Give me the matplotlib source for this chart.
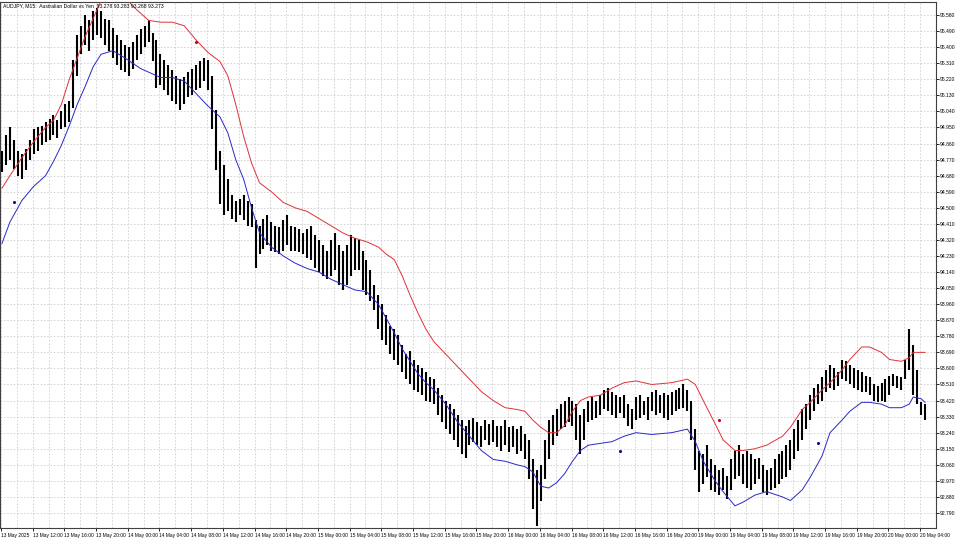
import matplotlib
matplotlib.use('Agg')
import matplotlib.pyplot as plt
import numpy as np

plt.rcParams['font.family'] = ['Liberation Sans', 'DejaVu Sans']

# ---- bar data (30-min aggregated bars) ----
high = [
    94.82, 94.91, 94.95, 94.88, 94.82, 94.80, 94.83, 94.88,
    94.94, 94.95, 94.96, 94.98, 95.00, 95.02, 94.99, 95.04,
    95.08, 95.10, 95.33, 95.47, 95.52, 95.58, 95.55, 95.60,
    95.62, 95.60, 95.56, 95.55, 95.51, 95.47, 95.44, 95.41,
    95.40, 95.43, 95.47, 95.50, 95.52, 95.55, 95.48, 95.44,
    95.36, 95.33, 95.30, 95.27, 95.24, 95.22, 95.23, 95.26,
    95.28, 95.30, 95.32, 95.34, 95.33, 95.24, 95.05, 94.82,
    94.74, 94.66, 94.57, 94.54, 94.55, 94.57, 94.54, 94.52,
    94.43, 94.40, 94.44, 94.46, 94.42, 94.40, 94.39, 94.43,
    94.46, 94.40, 94.39, 94.38, 94.36, 94.38, 94.40, 94.35,
    94.32, 94.29, 94.26, 94.32, 94.36, 94.29, 94.26, 94.29,
    94.35, 94.33, 94.32, 94.26, 94.21, 94.15, 94.07, 94.01,
    93.96, 93.90, 93.84, 93.82, 93.79, 93.73, 93.68, 93.70,
    93.65, 93.62, 93.60, 93.58, 93.55, 93.54, 93.49, 93.45,
    93.42, 93.40, 93.37, 93.34, 93.31, 93.28, 93.31, 93.32,
    93.30, 93.28, 93.31, 93.29, 93.31, 93.28, 93.28, 93.31,
    93.27, 93.28, 93.26, 93.28, 93.23, 93.20, 93.09, 93.03,
    93.06, 93.20, 93.31, 93.34, 93.37, 93.40, 93.42, 93.44,
    93.42, 93.40, 93.34, 93.37, 93.42, 93.44, 93.42, 93.45,
    93.48, 93.49, 93.47, 93.45, 93.44, 93.45, 93.40, 93.37,
    93.44, 93.45, 93.42, 93.44, 93.47, 93.48, 93.45, 93.46,
    93.45, 93.47, 93.48, 93.49, 93.51, 93.48, 93.42, 93.26,
    93.14, 93.12, 93.17, 93.09, 93.06, 93.03, 93.04, 93.00,
    93.09, 93.14, 93.17, 93.12, 93.14, 93.12, 93.09, 93.10,
    93.06, 93.03, 93.04, 93.09, 93.12, 93.14, 93.17, 93.20,
    93.26, 93.31, 93.37, 93.40, 93.45, 93.49, 93.51, 93.55,
    93.59, 93.62, 93.60, 93.58, 93.65, 93.64, 93.62, 93.60,
    93.59, 93.58, 93.56, 93.55, 93.51, 93.50, 93.52, 93.54,
    93.56, 93.57, 93.56, 93.55, 93.65, 93.82, 93.73, 93.59,
    93.41, 93.40,
]
low = [
    94.70, 94.74, 94.77, 94.72, 94.68, 94.66, 94.71, 94.77,
    94.80, 94.82, 94.85, 94.87, 94.88, 94.91, 94.89, 94.94,
    94.95, 94.98, 95.06, 95.24, 95.36, 95.41, 95.38, 95.44,
    95.47, 95.45, 95.41, 95.38, 95.34, 95.30, 95.27, 95.26,
    95.24, 95.28, 95.33, 95.36, 95.40, 95.43, 95.32, 95.17,
    95.19, 95.16, 95.13, 95.10, 95.08, 95.05, 95.08, 95.12,
    95.13, 95.16, 95.17, 95.21, 95.16, 94.94, 94.71, 94.52,
    94.46, 94.48, 94.44, 94.42, 94.46, 94.43, 94.40, 94.39,
    94.16, 94.24, 94.27, 94.29, 94.26, 94.25, 94.24, 94.26,
    94.29, 94.26, 94.26, 94.25, 94.24, 94.22, 94.21, 94.16,
    94.14, 94.12, 94.10, 94.12, 94.15, 94.07, 94.04, 94.07,
    94.12, 94.15, 94.15, 94.04, 94.01, 93.98, 93.93, 93.82,
    93.76, 93.73, 93.68, 93.65, 93.62, 93.58, 93.54, 93.51,
    93.48, 93.47, 93.45, 93.42, 93.41, 93.40, 93.34, 93.30,
    93.26, 93.23, 93.20, 93.16, 93.12, 93.10, 93.17, 93.19,
    93.17, 93.16, 93.20, 93.17, 93.19, 93.16, 93.14, 93.17,
    93.13, 93.16, 93.12, 93.14, 93.09, 92.98, 92.81, 92.72,
    92.86, 92.98, 93.09, 93.17, 93.22, 93.26, 93.27, 93.30,
    93.28, 93.20, 93.12, 93.20, 93.30, 93.31, 93.32, 93.34,
    93.37, 93.36, 93.34, 93.32, 93.35, 93.32, 93.28, 93.26,
    93.31, 93.32, 93.34, 93.31, 93.36, 93.34, 93.35, 93.32,
    93.31, 93.34, 93.36, 93.37, 93.38, 93.36, 93.20, 93.03,
    92.91, 92.95, 92.99, 92.92, 92.91, 92.89, 92.92, 92.87,
    92.92, 92.98, 93.00, 92.95, 92.93, 92.92, 92.95, 92.98,
    92.91, 92.89, 92.92, 92.93, 92.95, 92.98, 92.99, 93.03,
    93.09, 93.14, 93.20, 93.26, 93.31, 93.36, 93.40, 93.42,
    93.47, 93.49, 93.48, 93.50, 93.54, 93.53, 93.51, 93.49,
    93.48, 93.47, 93.47, 93.45, 93.42, 93.41, 93.42, 93.41,
    93.45, 93.50, 93.49, 93.48, 93.54, 93.59, 93.45, 93.40,
    93.34, 93.31,
]

# ---- channel lines (sampled at bar indices) ----
band_idx = [0, 2, 5, 8, 11, 13, 15, 17, 19, 21, 23, 25, 28, 31, 33, 35, 37, 40,
            43, 46, 49, 52, 55, 57, 59, 61, 63, 65, 68, 71, 74, 77, 80, 83, 86,
            89, 92, 95, 97, 99, 101, 103, 105, 107, 109, 112, 115, 118, 121, 124,
            127, 130, 132, 134, 136, 138, 140, 142, 144, 146, 148, 151, 154, 157,
            160, 164, 169, 173, 175, 177, 180, 182, 185, 187, 190, 193, 197, 199,
            202, 204, 207, 209, 212, 214, 217, 219, 222, 224, 227, 229, 230, 232, 233]
upper = [94.61, 94.68, 94.78, 94.87, 94.95, 94.99, 95.08, 95.22, 95.34, 95.46,
         95.56, 95.66, 95.72, 95.68, 95.63, 95.59, 95.55, 95.54, 95.54, 95.52,
         95.44, 95.37, 95.32, 95.24, 95.08, 94.90, 94.75, 94.64, 94.59, 94.53,
         94.50, 94.48, 94.44, 94.40, 94.36, 94.33, 94.31, 94.28, 94.24, 94.21,
         94.12, 94.01, 93.91, 93.82, 93.75, 93.68, 93.61, 93.54, 93.47, 93.42,
         93.38, 93.37, 93.36, 93.31, 93.27, 93.24, 93.24, 93.28, 93.36, 93.42,
         93.44, 93.45, 93.49, 93.52, 93.53, 93.51, 93.52, 93.54, 93.51, 93.42,
         93.29, 93.20, 93.14, 93.14, 93.15, 93.17, 93.22, 93.27, 93.37, 93.41,
         93.48, 93.52, 93.59, 93.65, 93.72, 93.72, 93.69, 93.65, 93.64, 93.66,
         93.69, 93.69, 93.69]
lower = [94.30, 94.42, 94.54, 94.62, 94.68, 94.76, 94.85, 94.96, 95.08, 95.18,
         95.29, 95.36, 95.38, 95.34, 95.31, 95.28, 95.26, 95.23, 95.23, 95.21,
         95.14, 95.07, 95.01, 94.92, 94.77, 94.66, 94.50, 94.36, 94.28, 94.23,
         94.19, 94.16, 94.14, 94.10, 94.07, 94.04, 94.03, 93.96, 93.88, 93.80,
         93.71, 93.64, 93.57, 93.52, 93.48, 93.40, 93.30, 93.22, 93.14, 93.09,
         93.08, 93.06, 93.05, 93.02, 92.94, 92.93, 92.96, 93.01, 93.08, 93.14,
         93.17, 93.18, 93.19, 93.22, 93.24, 93.23, 93.24, 93.26, 93.19, 93.08,
         92.97, 92.91, 92.83, 92.85, 92.89, 92.91, 92.88, 92.86, 92.92, 92.99,
         93.11, 93.24, 93.31, 93.36, 93.41, 93.41, 93.40, 93.38, 93.38, 93.40,
         93.44, 93.43, 93.41]

# ---- signal dots ----
sell_idx = [49, 181]
sell_val = [95.43, 93.31]
buy_idx = [3, 156, 206]
buy_val = [94.53, 93.14, 93.18]

price_labels = ["92.790", "92.880", "92.970", "93.060", "93.150", "93.240", "93.330",
                "93.420", "93.510", "93.600", "93.690", "93.780", "93.870", "93.960",
                "94.050", "94.140", "94.230", "94.320", "94.410", "94.500", "94.590",
                "94.680", "94.770", "94.860", "94.950", "95.040", "95.130", "95.220",
                "95.310", "95.400", "95.490", "95.580"]
time_labels = ["13 May 2025", "13 May 12:00", "13 May 16:00", "13 May 20:00",
               "14 May 00:00", "14 May 04:00", "14 May 08:00", "14 May 12:00",
               "14 May 16:00", "14 May 20:00", "15 May 00:00", "15 May 04:00",
               "15 May 08:00", "15 May 12:00", "15 May 16:00", "15 May 20:00",
               "16 May 00:00", "16 May 04:00", "16 May 08:00", "16 May 12:00",
               "16 May 16:00", "16 May 20:00", "19 May 00:00", "19 May 04:00",
               "19 May 08:00", "19 May 12:00", "19 May 16:00", "19 May 20:00",
               "20 May 00:00", "20 May 04:00"]
title = "AUDJPY, M15:  Australian Dollar vs Yen  93.278 93.283 93.268 93.273"

# ---- figure ----
fig = plt.figure(figsize=(9.6, 5.4), dpi=100)
fig.patch.set_facecolor('white')
ax = fig.add_axes([0.0, 12 / 540, 936 / 960, 526 / 540])
ax.set_facecolor('white')

n = len(high)
idx = np.arange(n)
ax.set_xlim(-0.5, n - 0.5)
ax.set_ylim(92.706, 95.653)

# grid and ticks
yvals = [float(s) for s in price_labels]
ax.set_yticks(yvals)
ax.set_yticklabels(price_labels)
ax.yaxis.tick_right()
major_x = np.arange(len(time_labels)) * 8 - 0.25
minor_x = major_x + 4
ax.set_xticks(major_x)
ax.set_xticklabels(time_labels, ha='left')
ax.set_xticks(minor_x, minor=True)
ax.grid(True, which='both', axis='x', color='#cfcfcf', linestyle=(0, (2, 2)), linewidth=0.6)
ax.grid(True, which='major', axis='y', color='#cfcfcf', linestyle=(0, (2, 2)), linewidth=0.6)
ax.set_axisbelow(True)

ax.tick_params(axis='x', which='major', labelsize=3.5, length=2, width=0.6, pad=1.5, colors='black')
ax.tick_params(axis='x', which='minor', length=0)
ax.tick_params(axis='y', which='major', labelsize=3.6, length=2, width=0.6, pad=1, colors='black')
for s in ax.spines.values():
    s.set_color('#404040')
    s.set_linewidth(0.8)

# bars
ax.vlines(idx, low, high, color='black', linewidth=1.5, zorder=3)

# channel lines
ax.plot(band_idx, upper, color='#e0303a', linewidth=0.7, zorder=4)
ax.plot(band_idx, lower, color='#2828c8', linewidth=0.7, zorder=4)

# signals
ax.scatter(sell_idx, sell_val, s=5, color='#cc0022', zorder=5, linewidths=0)
ax.scatter(buy_idx, buy_val, s=5, color='#10108a', zorder=5, linewidths=0)

ax.text(0.003, 0.997, title, transform=ax.transAxes, ha='left', va='top',
        fontsize=3.7, color='black', zorder=6)

fig.savefig('out.png', dpi=100, facecolor='white')
